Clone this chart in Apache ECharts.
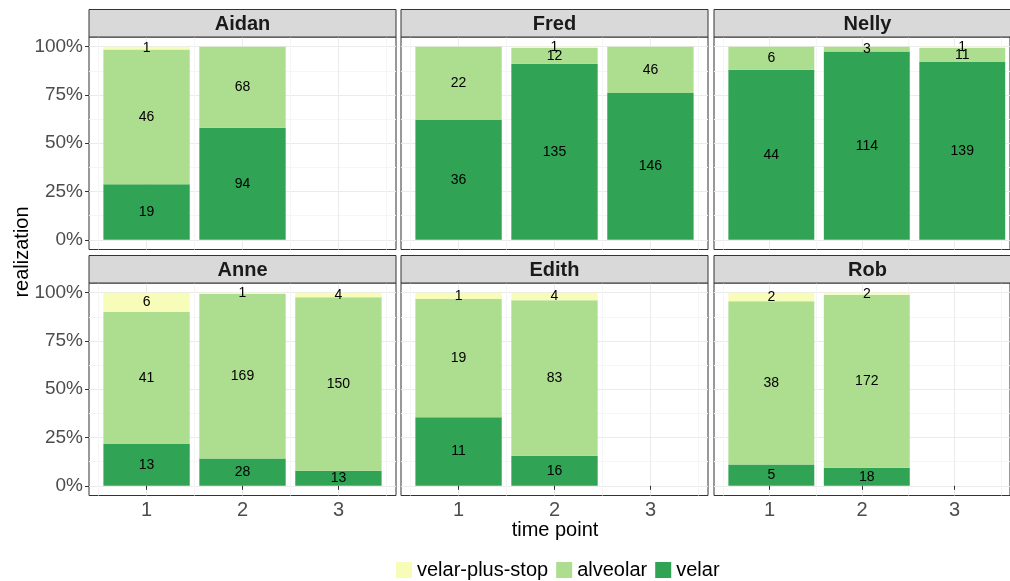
<!DOCTYPE html>
<html><head><meta charset="utf-8">
<script src="https://cdn.jsdelivr.net/npm/echarts@6/dist/echarts.min.js"></script>
<style>html,body{margin:0;padding:0;background:#fff}#c{width:1010px;height:581px}</style>
</head><body><div id="c"></div>
<script>
// ---- data ----
const speakers = ['Aidan', 'Fred', 'Nelly', 'Anne', 'Edith', 'Rob'];
const timePoints = [1, 2, 3];
const categories = ['velar', 'alveolar', 'velar-plus-stop']; // stacking order, bottom to top
const legendOrder = ['velar-plus-stop', 'alveolar', 'velar'];
// counts per speaker (in speakers order), per time point; null = nothing recorded / zero
const velarCounts = [
  [19, 94, null], [36, 135, 146], [44, 114, 139],
  [13, 28, 13], [11, 16, null], [5, 18, null]
];
const alveolarCounts = [
  [46, 68, null], [22, 12, 46], [6, 3, 11],
  [41, 169, 150], [19, 83, null], [38, 172, null]
];
const velarPlusStopCounts = [
  [1, null, null], [null, 1, null], [null, null, 1],
  [6, 1, 4], [1, 4, null], [2, 2, null]
];
const yTicks = [0, 25, 50, 75, 100];
const yMinorTicks = [12.5, 37.5, 62.5, 87.5];
const xTicks = [1, 2, 3];
const xMinorTicks = [0.5, 1.5, 2.5, 3.5];

// ---- styling / layout ----
const countsByCat = { 'velar': velarCounts, 'alveolar': alveolarCounts, 'velar-plus-stop': velarPlusStopCounts };
const colors = { 'velar-plus-stop': '#f7fcb9', 'alveolar': '#addd8e', 'velar': '#31a354' };
const FONT = 'Liberation Sans, Arial, sans-serif';
const colLeft = [89, 401, 714];
const rowTop = [37, 283];
const panelW = 307, panelH = 212.5, stripH = 27.5;
const xMin = 0.4, xMax = 3.6, yMin = -5, yMax = 105;
const unit = panelW / (xMax - xMin);

const grids = [], xAxes = [], yAxes = [], series = [], graphics = [];

speakers.forEach((name, i) => {
  const r = Math.floor(i / 3), c = i % 3;
  const bottomRow = r === 1, leftCol = c === 0;
  // panel grid (background, border, grid lines, ticks, labels)
  grids.push({ left: colLeft[c], top: rowTop[r], width: panelW, height: panelH, show: true,
    borderColor: '#333', borderWidth: 1, backgroundColor: '#fff' });
  // bar grid: bands centered on the time points
  grids.push({ left: colLeft[c] + (0.5 - xMin) * unit, top: rowTop[r], width: 3 * unit, height: panelH, show: false });
  const pg = 2 * i, bg = 2 * i + 1;
  xAxes.push({ type: 'value', gridIndex: pg, min: xMin, max: xMax,
    axisLine: { show: false },
    axisTick: { show: bottomRow, customValues: xTicks, length: 4, lineStyle: { color: '#333' } },
    axisLabel: { show: bottomRow, customValues: xTicks, fontSize: 20, color: '#4d4d4d', fontFamily: FONT, margin: 5 },
    splitLine: { show: true, lineStyle: { color: '#ebebeb', width: 1 } } });
  xAxes.push({ type: 'value', gridIndex: pg, min: xMin, max: xMax,
    axisLine: { show: false },
    axisTick: { show: false, customValues: xMinorTicks },
    axisLabel: { show: false, customValues: xMinorTicks },
    splitLine: { show: true, lineStyle: { color: '#f5f5f5', width: 1 } } });
  xAxes.push({ type: 'category', gridIndex: bg, data: timePoints.map(String), show: false });

  yAxes.push({ type: 'value', gridIndex: pg, min: yMin, max: yMax,
    axisLine: { show: false },
    axisTick: { show: leftCol, customValues: yTicks, length: 4, lineStyle: { color: '#333' } },
    axisLabel: { show: leftCol, customValues: yTicks, fontSize: 19, color: '#4d4d4d', fontFamily: FONT, margin: 6,
      formatter: v => v + '%' },
    splitLine: { show: true, lineStyle: { color: '#ebebeb', width: 1 } } });
  yAxes.push({ type: 'value', gridIndex: pg, min: yMin, max: yMax,
    axisLine: { show: false },
    axisTick: { show: false, customValues: yMinorTicks },
    axisLabel: { show: false, customValues: yMinorTicks },
    splitLine: { show: true, lineStyle: { color: '#f5f5f5', width: 1 } } });
  yAxes.push({ type: 'value', gridIndex: bg, min: yMin, max: yMax, show: false });

  const totals = timePoints.map((t, k) => categories.reduce((s, cat) => s + (countsByCat[cat][i][k] || 0), 0));
  categories.forEach(cat => {
    const data = timePoints.map((t, k) => {
      const n = countsByCat[cat][i][k];
      return (n != null && totals[k] > 0) ? { value: n / totals[k] * 100, count: n } : null;
    });
    series.push({ type: 'bar', name: cat, xAxisIndex: 3 * i + 2, yAxisIndex: 3 * i + 2, stack: 'f' + i,
      barWidth: '90%', data, itemStyle: { color: colors[cat] },
      label: { show: true, position: 'inside', color: '#000', fontSize: 14, fontFamily: FONT,
        formatter: p => p.data.count } });
  });

  const sy = rowTop[r] - stripH;
  graphics.push({ type: 'rect', shape: { x: colLeft[c], y: sy, width: panelW, height: stripH },
    style: { fill: '#d9d9d9', stroke: '#333', lineWidth: 1 }, z: 10 });
  graphics.push({ type: 'text', x: colLeft[c] + panelW / 2, y: sy + stripH / 2 + 1,
    style: { text: name, align: 'center', verticalAlign: 'middle', fontSize: 20, fontWeight: 'bold',
      fontFamily: FONT, fill: '#1a1a1a' }, z: 11 });
});

graphics.push({ type: 'text', x: 22, y: 252, rotation: Math.PI / 2,
  style: { text: 'realization', align: 'center', verticalAlign: 'middle', fontSize: 20, fontFamily: FONT, fill: '#000' } });
graphics.push({ type: 'text', x: 555, y: 530,
  style: { text: 'time point', align: 'center', verticalAlign: 'middle', fontSize: 20, fontFamily: FONT, fill: '#000' } });

const chart = echarts.init(document.getElementById('c'), null, { renderer: 'canvas' });
chart.setOption({
  animation: false,
  backgroundColor: '#fff',
  grid: grids, xAxis: xAxes, yAxis: yAxes, series,
  legend: { data: legendOrder, left: 396, top: 560, padding: 0, icon: 'rect', itemWidth: 16, itemHeight: 16, itemGap: 8,
    textStyle: { fontSize: 20, fontFamily: FONT, color: '#000' } },
  graphic: graphics
});
</script></body></html>
